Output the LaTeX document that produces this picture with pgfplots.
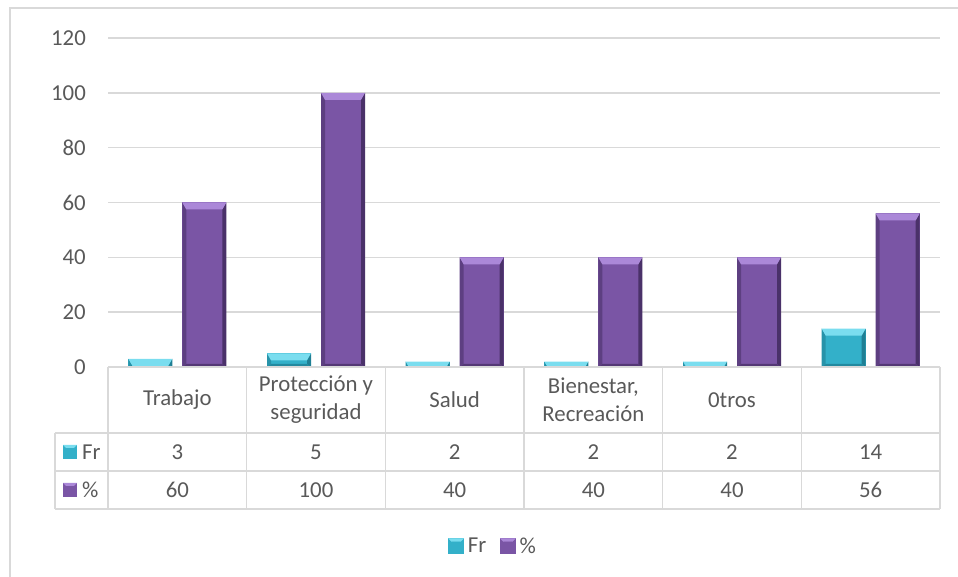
\documentclass[border=0pt]{standalone}
\usepackage{fontspec}
\setmainfont{Carlito}
\usepackage{pgfplots}
\pgfplotsset{compat=1.18}

\definecolor{txt}{HTML}{595959}
\definecolor{gridc}{HTML}{D9D9D9}
\definecolor{cyanmid}{HTML}{33B0C9}
\definecolor{cyantop}{HTML}{7ADDEF}
\definecolor{cyandark}{HTML}{1F7F94}
\definecolor{purmid}{HTML}{7A55A5}
\definecolor{purtop}{HTML}{AB88D8}
\definecolor{purdark}{HTML}{4A3169}

% facets of a bevelled bar, drawn with basic-layer paths
\def\ppa#1{\pgfpointanchor{path picture bounding box}{#1}}
\def\ppo#1#2#3{\pgfpointadd{\ppa{#1}}{\pgfpoint{#2}{#3}}}
\newcommand\bevelfacets[3]{%
  % left edge
  \pgfpathmoveto{\ppa{north west}}%
  \pgfpathlineto{\ppo{north west}{4bp}{-7bp}}%
  \pgfpathlineto{\ppo{south west}{4bp}{3bp}}%
  \pgfpathlineto{\ppa{south west}}\pgfpathclose
  \pgfsetfillcolor{#2!60!#3}\pgfusepath{fill}%
  % right edge
  \pgfpathmoveto{\ppa{north east}}%
  \pgfpathlineto{\ppo{north east}{-4bp}{-7bp}}%
  \pgfpathlineto{\ppo{south east}{-4bp}{3bp}}%
  \pgfpathlineto{\ppa{south east}}\pgfpathclose
  \pgfsetfillcolor{#2}\pgfusepath{fill}%
  % bottom edge
  \pgfpathmoveto{\ppa{south west}}%
  \pgfpathlineto{\ppo{south west}{4bp}{3bp}}%
  \pgfpathlineto{\ppo{south east}{-4bp}{3bp}}%
  \pgfpathlineto{\ppa{south east}}\pgfpathclose
  \pgfsetfillcolor{#2!80!#3}\pgfusepath{fill}%
  % top facet
  \pgfpathmoveto{\ppa{north west}}%
  \pgfpathlineto{\ppa{north east}}%
  \pgfpathlineto{\ppo{north east}{-4bp}{-7bp}}%
  \pgfpathlineto{\ppo{north west}{4bp}{-7bp}}\pgfpathclose
  \pgfsetfillcolor{#1}\pgfusepath{fill}%
}
\tikzset{
  bevel/.style n args={3}{
    fill=#1, draw=none,
    path picture={\bevelfacets{#2}{#3}{#1}}
  }
}

\pgfplotstableread{
x  fr  pct
0  3   60
1  5   100
2  2   40
3  2   40
4  2   40
5  14  56
}\datatab

\begin{document}
\begin{tikzpicture}[x=1bp,y=1bp,font=\fontsize{22.8bp}{28bp}\selectfont,text=txt]
\useasboundingbox (0,0) rectangle (958,577);
% outer frame
\draw[gridc, line width=1.5bp] (10,0) -- (10,569) -- (960,569);

\begin{axis}[
  at={(108bp,210bp)}, anchor=south west,
  scale only axis, width=832bp, height=329bp,
  xmin=-0.5, xmax=5.5, ymin=0, ymax=120,
  ytick={0,20,...,120},
  xtick={0,...,5},
  xticklabels={Trabajo,{Protección y\\seguridad},Salud,{Bienestar,\\Recreación},0tros,{}},
  xticklabel style={anchor=center, yshift=-33bp, align=center, text=txt,
    font=\fontsize{22.8bp}{28bp}\selectfont},
  yticklabel style={anchor=east, inner sep=0pt, xshift=-22bp, text=txt,
    font=\fontsize{22.8bp}{28bp}\selectfont},
  /pgf/number format/assume math mode=true,
  major tick length=0pt,
  axis line style={draw=none},
  ymajorgrids, grid style={gridc, line width=1.5bp},
  ybar=0pt, bar width=44bp,
  clip=false,
  unbounded coords=discard,
  legend style={at={(0.463,-0.544)}, anchor=center, draw=none, fill=none,
    legend columns=2, font=\fontsize{22.8bp}{28bp}\selectfont, text=txt,
    /tikz/every odd column/.append style={column sep=2bp},
    /tikz/every even column/.append style={column sep=12bp}},
]
% one path per bar so that every bar gets its own bevel
\pgfplotsinvokeforeach{0,...,5}{
  \addplot[forget plot, bar shift=-27bp, bevel={cyanmid}{cyantop}{cyandark},
    x filter/.expression={abs(x-#1)<0.1 ? x : nan}] table[x=x,y=fr] {\datatab};
  \addplot[forget plot, bar shift=27bp, bevel={purmid}{purtop}{purdark},
    x filter/.expression={abs(x-#1)<0.1 ? x : nan}] table[x=x,y=pct] {\datatab};
}
\addlegendimage{legend image code/.code={
  \fill[cyanmid] (0bp,-7.5bp) rectangle (15bp,7.5bp);
  \fill[cyantop] (0bp,7.5bp) -- (15bp,7.5bp) -- (12bp,4.5bp) -- (3bp,4.5bp) -- cycle;}}
\addlegendentry{Fr}
\addlegendimage{legend image code/.code={
  \fill[purmid] (0bp,-7.5bp) rectangle (15bp,7.5bp);
  \fill[purtop] (0bp,7.5bp) -- (15bp,7.5bp) -- (12bp,4.5bp) -- (3bp,4.5bp) -- cycle;}}
\addlegendentry{\%}
\end{axis}

% data table under the plot
\begin{scope}[gridc, line width=1.5bp]
  \draw (108,210) -- (940,210);
  \draw (55,144) -- (940,144);
  \draw (55,106) -- (940,106);
  \draw (55,68) -- (940,68);
  \draw (55,144) -- (55,68);
  \foreach \k in {0,...,6} { \draw ({108+138.667*\k},210) -- ({108+138.667*\k},68); }
\end{scope}
% row keys
\fill[cyanmid] (63,118) rectangle (77,132);
\fill[cyantop] (63,132) -- (77,132) -- (74,129) -- (66,129) -- cycle;
\node[anchor=west, inner sep=0pt] at (82,125) {Fr};
\fill[purmid] (63,80) rectangle (77,94);
\fill[purtop] (63,94) -- (77,94) -- (74,91) -- (66,91) -- cycle;
\node[anchor=west, inner sep=0pt] at (82,87) {\%};
% row values
\foreach \v [count=\i from 0] in {3,5,2,2,2,14}
  \node at ({108+138.667*(\i+0.5)},125) {\v};
\foreach \v [count=\i from 0] in {60,100,40,40,40,56}
  \node at ({108+138.667*(\i+0.5)},87) {\v};
\end{tikzpicture}
\end{document}
